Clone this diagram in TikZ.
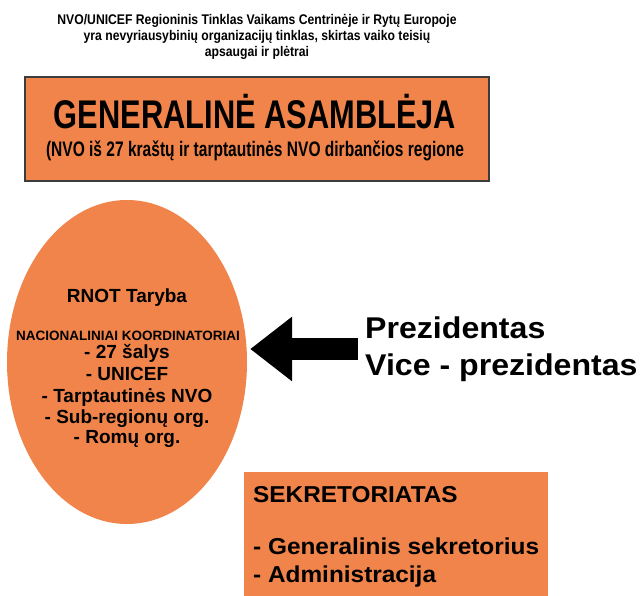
\documentclass[tikz,border=0pt]{standalone}
\usepackage{fontspec}
\setmainfont{Liberation Sans}
\usetikzlibrary{arrows.meta,shapes.geometric}
\definecolor{netorange}{RGB}{240,132,74}
\definecolor{boxline}{RGB}{60,60,60}
\newcommand{\squeeze}[2]{\scalebox{#1}[1]{#2}}
\tikzset{
  txt/.style={anchor=base, inner sep=0pt, font=\bfseries},
  orangebox/.style={fill=netorange, inner sep=0pt},
}
\begin{document}
\begin{tikzpicture}[x=1pt, y=-1pt]
        \useasboundingbox (0,0) rectangle (640,596);

        % heading
        \node (head1) [txt, font=\bfseries\fontsize{14}{14}\selectfont] at (257,25) {\squeeze{0.87}{NVO/UNICEF Regioninis Tinklas Vaikams Centrinėje ir Rytų Europoje}};
        \node (head2) [txt, font=\bfseries\fontsize{14}{14}\selectfont] at (257,41) {\squeeze{0.87}{yra nevyriausybinių organizacijų tinklas, skirtas vaiko teisių}};
        \node (head3) [txt, font=\bfseries\fontsize{14}{14}\selectfont] at (257,57) {\squeeze{0.87}{apsaugai ir plėtrai}};

        % general assembly
        \node (assembly) [orangebox, draw=boxline, line width=1.2pt, minimum width=464pt, minimum height=104pt] at (257,129) {};
        \node (assemblytitle) [txt, font=\bfseries\fontsize{40}{40}\selectfont] at (255,129) {\squeeze{0.77}{GENERALINĖ ASAMBLĖJA}};
        \node (assemblysub) [txt, font=\bfseries\fontsize{21}{21}\selectfont] at (255,157) {\squeeze{0.74}{(NVO iš 27 kraštų ir tarptautinės NVO dirbančios regione}};

        % council
        \node (taryba) [orangebox, ellipse, minimum width=240pt, minimum height=324pt] at (127,362) {};
        \node (tarybatitle) [txt, font=\bfseries\fontsize{19}{19}\selectfont] at (127,302) {RNOT Taryba};
        \node (coordinators) [txt, font=\bfseries\fontsize{13.5}{13.5}\selectfont] at (128,340) {NACIONALINIAI KOORDINATORIAI};
        \node (countries) [txt, font=\bfseries\fontsize{19}{19}\selectfont] at (127,358) {- 27 šalys};
        \node (unicef) [txt, font=\bfseries\fontsize{19}{19}\selectfont] at (127,380) {- UNICEF};
        \node (intngo) [txt, font=\bfseries\fontsize{19}{19}\selectfont] at (127,402) {- Tarptautinės NVO};
        \node (subreg) [txt, font=\bfseries\fontsize{19}{19}\selectfont] at (127,423) {- Sub-regionų org.};
        \node (roma) [txt, font=\bfseries\fontsize{19}{19}\selectfont] at (127,443) {- Romų org.};

        % presidents
        \node (prez) [txt, anchor=base west, font=\bfseries\fontsize{30}{30}\selectfont] at (365,338) {\squeeze{1.07}{Prezidentas}};
        \node (viceprez) [txt, anchor=base west, font=\bfseries\fontsize{30}{30}\selectfont] at (365,375) {\squeeze{1.07}{Vice - prezidentas}};
        \coordinate (prezarrow) at (358,349);
        \draw [line width=22pt, -{Triangle[length=42pt, width=62pt]}] (prezarrow) -- ([xshift=3pt]taryba.east |- prezarrow);

        % secretariat
        \node (secretariat) [orangebox, minimum width=304pt, minimum height=130pt] at (396,537) {};
        \node (secrtitle) [txt, anchor=base west, font=\bfseries\fontsize{23}{23}\selectfont] at (253,502) {\squeeze{1.06}{SEKRETORIATAS}};
        \node (secrgen) [txt, anchor=base west, font=\bfseries\fontsize{23}{23}\selectfont] at (253,554) {\squeeze{1.06}{- Generalinis sekretorius}};
        \node (secradmin) [txt, anchor=base west, font=\bfseries\fontsize{23}{23}\selectfont] at (253,582) {\squeeze{1.06}{- Administracija}};
    \end{tikzpicture}
\end{document}
